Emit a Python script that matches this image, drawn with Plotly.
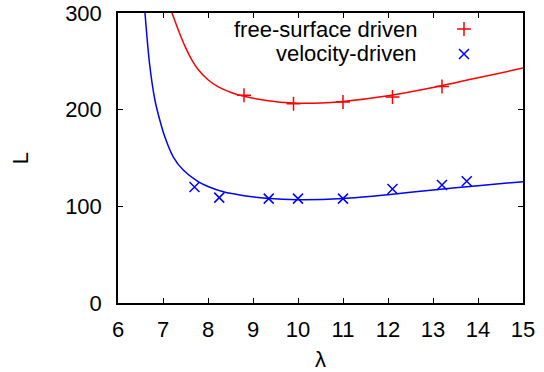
import plotly.graph_objects as go

# Measured data points
fs_lambda = [8.8, 9.9, 11.0, 12.1, 13.2]
fs_L = [215, 206, 208, 213, 224]
vd_lambda = [7.7, 8.25, 9.35, 10.0, 11.0, 12.1, 13.2, 13.75]
vd_L = [120, 109, 108, 108, 108, 118, 122, 126]

# Fit curves
fs_fit_lambda = [7.2, 7.34, 7.49, 7.64, 7.78, 8.0, 8.23, 8.53, 8.8, 9.3, 9.9, 10.5, 11.0, 12.0, 13.0, 14.0, 15.0]
fs_fit_L = [300, 282.5, 265.5, 251.5, 241.5, 231, 223.5, 217.5, 213.8, 209.5, 206.8, 206.8, 208.5, 214.5, 223, 233, 243]
vd_fit_lambda = [6.6, 6.7, 6.82, 6.93, 7.04, 7.23, 7.45, 7.78, 8.0, 8.34, 8.8, 9.3, 10.0, 11.0, 12.0, 13.0, 14.0, 15.0]
vd_fit_L = [300, 248, 210, 189, 172, 151, 137.5, 125.5, 120.5, 115, 111, 108.3, 106.8, 108, 112, 117, 121.3, 125.5]

x_ticks = list(range(6, 16))
y_ticks = [0, 100, 200, 300]

RED = "#ff0000"
BLUE = "#0000ff"
FONT = "Liberation Sans, Arial, sans-serif"

fig = go.Figure()
fig.add_trace(go.Scatter(x=fs_fit_lambda, y=fs_fit_L, mode="lines",
                         line=dict(color=RED, width=1.5, shape="spline", smoothing=0.8),
                         showlegend=False, hoverinfo="skip"))
fig.add_trace(go.Scatter(x=vd_fit_lambda, y=vd_fit_L, mode="lines",
                         line=dict(color=BLUE, width=1.5, shape="spline", smoothing=0.8),
                         showlegend=False, hoverinfo="skip"))
fig.add_trace(go.Scatter(x=fs_lambda, y=fs_L, mode="markers", name="free-surface driven",
                         marker=dict(symbol="cross-thin", size=10, line=dict(color=RED, width=1.5)),
                         showlegend=False))
fig.add_trace(go.Scatter(x=vd_lambda, y=vd_L, mode="markers", name="velocity-driven",
                         marker=dict(symbol="x-thin", size=10, line=dict(color=BLUE, width=1.5)),
                         showlegend=False))

# Manual gnuplot-style legend (text right-aligned, symbol on the right)
leg_items = [("free-surface driven", RED, "cross-thin", 29), ("velocity-driven", BLUE, "x-thin", 54)]
W, H = 544, 372
L_M, R_M, T_M, B_M = 118, 21, 13, 69
pw, ph = W - L_M - R_M, H - T_M - B_M

def px2paper(px, py):
    return (px - L_M) / pw, 1 - (py - T_M) / ph

for text, col, sym, py in leg_items:
    xt, yt = px2paper(419, py)
    fig.add_annotation(x=xt, y=yt, xref="paper", yref="paper", text=text,
                       showarrow=False, xanchor="right", yanchor="middle",
                       font=dict(family=FONT, size=22, color="black"))
    xs, ys = px2paper(464, py)
    fig.add_trace(go.Scatter(x=[xs], y=[ys], xaxis="x2", yaxis="y2", mode="markers",
                             marker=dict(symbol=sym, size=10,
                                         line=dict(color=col, width=1.5)),
                             showlegend=False, hoverinfo="skip"))

axis_common = dict(showgrid=False, zeroline=False, showline=True, linecolor="black",
                   linewidth=1.5, mirror="allticks", ticks="inside", ticklen=5,
                   tickwidth=1, tickcolor="black", automargin=False,
                   tickfont=dict(family=FONT, size=22, color="black"))

fig.update_layout(
    width=W, height=H,
    margin=dict(l=L_M, r=R_M, t=T_M, b=B_M),
    paper_bgcolor="white", plot_bgcolor="white",
    xaxis=dict(range=[6, 15], tickvals=x_ticks, ticklabelstandoff=6,
               title=dict(text="λ", font=dict(family=FONT, size=22, color="black"), standoff=10),
               **axis_common),
    yaxis=dict(range=[0, 300], tickvals=y_ticks, ticklabelstandoff=10,
               title=dict(text="L", font=dict(family=FONT, size=22, color="black"), standoff=30),
               **axis_common),
    xaxis2=dict(range=[0, 1], overlaying="x", visible=False),
    yaxis2=dict(range=[0, 1], overlaying="y", visible=False),
    showlegend=False,
)

fig.write_html("out.html")
